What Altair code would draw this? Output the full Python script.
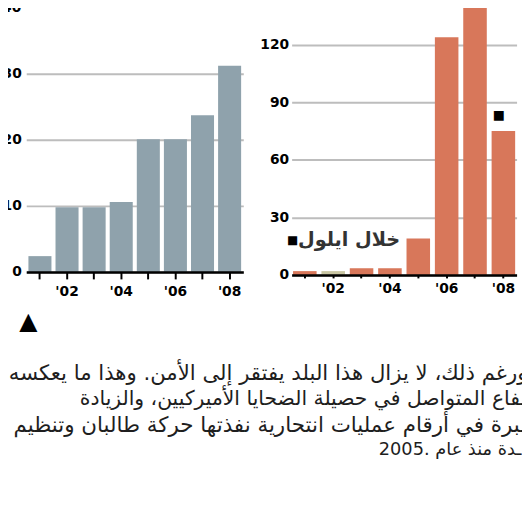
import altair as alt
import pandas as pd

# ---- data ----
YEARS = ["2001", "2002", "2003", "2004", "2005", "2006", "2007", "2008"]
TROOPS = [2.4, 9.8, 9.8, 10.6, 20.1, 20.1, 23.7, 31.2]
ATTACKS = [2, 2, 3.5, 3.5, 19, 124, 141, 75]
LEFT_TICKS = [0, 10, 20, 30]
LEFT_TOP_LABEL = "40"
RIGHT_TICKS = [0, 30, 60, 90, 120]
HIGHLIGHT_YEAR = "2002"
ANNOTATION = "خلال ايلول"
MARKER = "■"
TRIANGLE = "▲"
PARAGRAPH = [
    "ورغم ذلك، لا يزال هذا البلد يفتقر إلى الأمن. وهذا ما يعكسه",
    "ـفاع المتواصل في حصيلة الضحايا الأميركيين، والزيادة",
    "ـبرة في أرقام عمليات انتحارية نفذتها حركة طالبان وتنظيم",
    "ـدة منذ عام .2005",
]

GREY = "#8fa2ac"
ORANGE = "#d8775a"
KHAKI = "#c9c6a3"
GRID = "#bdbdbd"
LABEL_FONT = "DejaVu Sans"
AR_FONT = "DejaVu Sans"

left_df = pd.DataFrame({"year": YEARS, "value": TROOPS})
right_df = pd.DataFrame({"year": YEARS, "value": ATTACKS})

LABEL_EXPR = "toNumber(datum.value) % 2 == 0 ? \"'\" + substring(datum.value, 2, 4) : ''"


def x_axis(tick_size, label_pad):
    return alt.Axis(
        title=None, labelExpr=LABEL_EXPR, labelAngle=0, tickSize=tick_size,
        tickWidth=2, tickColor="black", domainColor="black", domainWidth=2.5,
        labelFont=LABEL_FONT, labelFontSize=14, labelFontWeight="bold",
        labelColor="black", labelPadding=label_pad, zindex=1, grid=False,
    )


def y_axis(values, label_pad):
    return alt.Axis(
        title=None, values=values, grid=True, gridColor=GRID, gridWidth=2,
        domain=False, ticks=False, labelPadding=label_pad,
        labelFont=LABEL_FONT, labelFontSize=14, labelFontWeight="bold",
        labelColor="black",
    )


def note(text, x, y, size, align="center", weight="normal", color="black", font=AR_FONT):
    return alt.Chart(pd.DataFrame({"t": [text]})).mark_text(
        align=align, baseline="middle", fontSize=size, fontWeight=weight,
        color=color, font=font,
    ).encode(x=alt.value(x), y=alt.value(y), text="t:N")


# invisible frame that fixes the layout bounds (page crop)
frame = alt.Chart(pd.DataFrame({"t": [0]})).mark_rule(
    strokeOpacity=0, strokeWidth=1
).encode(x=alt.value(-40), x2=alt.value(540), y=alt.value(-20))

left_bars = alt.Chart(left_df).mark_bar(color=GREY).encode(
    x=alt.X("year:N", sort=YEARS,
            scale=alt.Scale(paddingInner=0.15, paddingOuter=0.08),
            axis=x_axis(7, 6)),
    y=alt.Y("value:Q", scale=alt.Scale(domain=[0, 40], nice=False),
            axis=y_axis(LEFT_TICKS, 5)),
)

left_texts = [
    note(LEFT_TOP_LABEL, -5, 0, 14, align="right", weight="bold", font=LABEL_FONT),
    note(TRIANGLE, 2, 319, 24, font=LABEL_FONT),
]
line_y = [371, 397, 423, 448]
line_x = [508, 507, 507, 502]
line_size = [21.5, 20.6, 21.7, 18]
for txt, xx, yy, sz in zip(PARAGRAPH, line_x, line_y, line_size):
    left_texts.append(note(txt, xx, yy, sz, align="right", color="#1e1e1e"))

left = alt.layer(frame, left_bars, *left_texts).properties(width=220, height=268)

right_bars = alt.Chart(right_df).mark_bar().encode(
    x=alt.X("year:N", sort=YEARS,
            scale=alt.Scale(paddingInner=0.17, paddingOuter=0.05),
            axis=x_axis(3, 4)),
    y=alt.Y("value:Q", scale=alt.Scale(domain=[0, 139.4], nice=False),
            axis=y_axis(RIGHT_TICKS, 3)),
    color=alt.condition(alt.datum.year == HIGHLIGHT_YEAR, alt.value(KHAKI), alt.value(ORANGE)),
)

right_texts = [
    note(ANNOTATION, 110, 236, 19.5, align="right", weight="bold", color="#333333"),
    note(MARKER, 1, 236, 12, font=LABEL_FONT),
    note(MARKER, 210, 109, 13, font=LABEL_FONT),
]

right = alt.layer(right_bars, *right_texts).properties(width=228, height=271)

chart = alt.hconcat(left, right, spacing=49, bounds="flush").properties(
    padding={"left": -21.5, "top": -23.5, "right": -37.5, "bottom": 0}
).configure_view(stroke=None)

chart.save("out.html", embed_options={"renderer": "svg", "actions": False})
